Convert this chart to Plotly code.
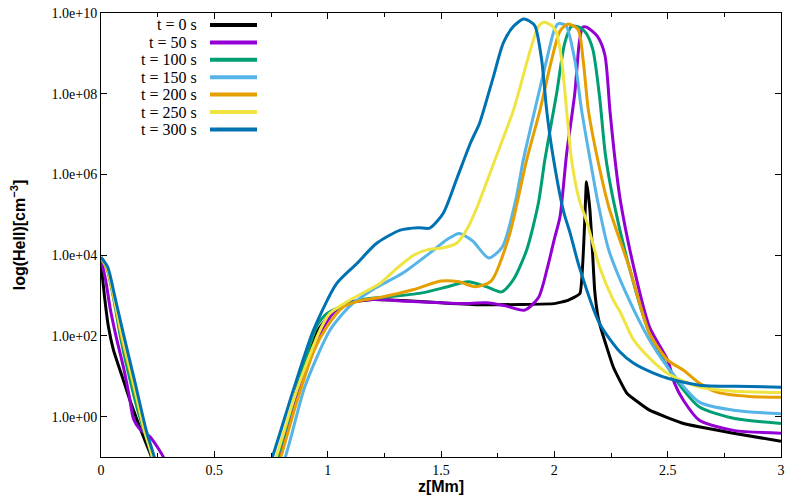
import plotly.graph_objects as go

# z [Mm] and log10 n(HeII) [cm^-3].
# None splits the two visible branches (the curves dip below 0.1 in between).
z_0 = [0, 0.015, 0.032, 0.055, 0.09, 0.128, 0.17, 0.216, 0.25, None,
       0.74, 0.785, 0.87, 0.958, 1.02, 1.1, 1.2, 1.35, 1.5, 1.67, 1.85, 2.0, 2.06,
       2.113, 2.142, 2.157, 2.168, 2.178, 2.193, 2.208, 2.26, 2.32, 2.42, 2.57, 2.79, 3.0]
logn_0 = [3.8, 3.0, 2.25, 1.65, 1.05, 0.4, -0.25, -0.9, -1.4, None,
          -1.6, -1.05, 0.8, 2.14, 2.6, 2.83, 2.9, 2.87, 2.82, 2.77, 2.78, 2.8, 2.88,
          3.05, 5.82, 5.12, 4.13, 3.13, 2.47, 2.14, 1.23, 0.58, 0.16, -0.17, -0.41, -0.61]

z_50 = [0, 0.02, 0.04, 0.07, 0.1, 0.125, 0.143, 0.17, 0.216, 0.275, 0.3, None,
        0.74, 0.785, 0.87, 0.96, 1.03, 1.1, 1.2, 1.35, 1.5, 1.6, 1.7, 1.78, 1.87, 1.93,
        1.97, 2.0, 2.025, 2.054, 2.09, 2.11, 2.125, 2.142, 2.19, 2.223, 2.245, 2.265,
        2.29, 2.35, 2.42, 2.5, 2.53, 2.57, 2.64, 2.79, 3.0]
logn_50 = [3.9, 3.4, 2.7, 1.9, 1.2, 0.5, -0.05, -0.3, -0.5, -1.0, -1.4, None,
           -1.6, -1.05, 0.6, 2.0, 2.6, 2.83, 2.9, 2.86, 2.82, 2.8, 2.82, 2.75, 2.64, 2.95,
           3.7, 4.4, 4.95, 6.5, 8.0, 9.26, 9.65, 9.65, 9.42, 8.96, 7.6, 6.5,
           5.4, 3.71, 2.22, 1.4, 0.83, 0.4, -0.09, -0.34, -0.41]

z_100 = [0, 0.03, 0.06, 0.085, 0.12, 0.16, 0.19, 0.22, 0.245, None,
         0.73, 0.775, 0.86, 0.95, 0.996, 1.057, 1.15, 1.25, 1.41, 1.53, 1.62, 1.7, 1.767,
         1.82, 1.878, 1.93, 1.958, 2.01, 2.046, 2.076, 2.11, 2.14, 2.17, 2.2, 2.225, 2.26,
         2.33, 2.42, 2.5, 2.57, 2.64, 2.79, 3.0]
logn_100 = [3.95, 3.6, 2.8, 2.0, 1.1, 0.2, -0.35, -0.9, -1.4, None,
            -1.6, -1.05, 0.6, 2.22, 2.55, 2.72, 2.9, 2.96, 3.06, 3.22, 3.34, 3.22, 3.09,
            3.4, 4.13, 5.3, 6.36, 8.0, 9.26, 9.67, 9.65, 9.5, 9.09, 7.9, 6.5, 5.37,
            3.71, 2.06, 1.23, 0.66, 0.24, -0.04, -0.17]

z_150 = [0, 0.03, 0.06, 0.095, 0.145, 0.195, 0.23, 0.25, None,
         0.76, 0.81, 0.9, 1.01, 1.1, 1.2, 1.33, 1.45, 1.53, 1.58, 1.64, 1.71, 1.77, 1.83,
         1.863, 1.914, 1.966, 2.0, 2.016, 2.05, 2.09, 2.12, 2.16, 2.19, 2.24, 2.33, 2.42,
         2.5, 2.64, 2.79, 3.0]
logn_150 = [3.95, 3.65, 2.9, 2.0, 0.8, -0.35, -1.0, -1.4, None,
            -1.6, -1.05, 0.75, 2.14, 2.75, 3.15, 3.55, 4.05, 4.4, 4.54, 4.35, 3.93, 4.2, 5.37,
            6.36, 7.6, 8.84, 9.58, 9.73, 9.7, 8.84, 7.6, 6.3, 5.37, 4.13, 2.89, 1.9,
            1.23, 0.36, 0.16, 0.07]

z_200 = [0, 0.03, 0.06, 0.09, 0.14, 0.19, 0.225, 0.245, None,
         0.75, 0.79, 0.86, 0.94, 0.996, 1.07, 1.15, 1.23, 1.38, 1.5, 1.58, 1.65, 1.72, 1.8,
         1.878, 1.937, 1.988, 2.025, 2.06, 2.105, 2.127, 2.15, 2.19, 2.24, 2.33, 2.42,
         2.5, 2.57, 2.64, 2.72, 2.86, 3.0]
logn_200 = [3.95, 3.6, 2.85, 2.0, 0.85, -0.3, -0.95, -1.4, None,
            -1.6, -1.05, 0.3, 1.64, 2.22, 2.72, 2.88, 2.95, 3.15, 3.36, 3.34, 3.22, 3.35, 4.46,
            6.36, 7.6, 8.84, 9.55, 9.73, 9.59, 8.84, 7.6, 6.4, 5.2, 3.71, 2.06,
            1.4, 1.15, 0.83, 0.6, 0.5, 0.48]

z_250 = [0, 0.03, 0.06, 0.093, 0.145, 0.19, 0.225, 0.245, None,
         0.73, 0.77, 0.86, 0.966, 1.01, 1.098, 1.23, 1.3, 1.38, 1.45, 1.5, 1.57, 1.62, 1.66,
         1.738, 1.82, 1.89, 1.93, 1.955, 1.99, 2.01, 2.032, 2.054, 2.076, 2.11, 2.142, 2.2,
         2.26, 2.29, 2.35, 2.42, 2.5, 2.64, 2.79, 3.0]
logn_250 = [3.95, 3.65, 2.9, 2.0, 0.8, -0.3, -0.95, -1.4, None,
            -1.6, -1.05, 0.6, 2.14, 2.56, 2.89, 3.3, 3.65, 4.0, 4.15, 4.17, 4.3, 4.7, 5.2,
            6.36, 7.6, 9.0, 9.67, 9.77, 9.68, 9.5, 8.84, 7.6, 6.36, 5.37, 4.85, 3.7,
            2.89, 2.6, 1.9, 1.45, 1.07, 0.73, 0.63, 0.6]

z_300 = [0, 0.03, 0.06, 0.098, 0.15, 0.2, 0.235, 0.25, None,
         0.70, 0.753, 0.848, 0.937, 1.04, 1.13, 1.215, 1.32, 1.4, 1.45, 1.51, 1.57, 1.63,
         1.67, 1.73, 1.775, 1.82, 1.863, 1.89, 1.915, 1.944, 1.966, 1.99, 2.04, 2.07, 2.11,
         2.2, 2.29, 2.35, 2.44, 2.5, 2.64, 2.8, 3.0]
logn_300 = [3.95, 3.7, 3.0, 2.07, 0.85, -0.35, -1.0, -1.4, None,
            -1.8, -1.05, 0.65, 2.14, 3.3, 3.8, 4.29, 4.62, 4.68, 4.67, 5.04, 5.9, 6.78,
            7.27, 8.4, 9.26, 9.67, 9.85, 9.8, 9.67, 8.84, 7.6, 6.6, 5.1, 4.54, 3.71,
            2.3, 1.6, 1.32, 1.07, 0.95, 0.78, 0.75, 0.73]

labels = ["t = 0 s", "t = 50 s", "t = 100 s", "t = 150 s",
          "t = 200 s", "t = 250 s", "t = 300 s"]
series = [(z_0, logn_0), (z_50, logn_50), (z_100, logn_100), (z_150, logn_150),
          (z_200, logn_200), (z_250, logn_250), (z_300, logn_300)]

# gnuplot default line colours
COLORS = ["#000000", "#9400d3", "#009e73", "#56b4e9", "#e69f00", "#f0e442", "#0072b2"]
SMOOTH = [0.35, 0.7, 0.7, 0.7, 0.7, 0.7, 0.7]

SERIF = "Liberation Serif, Times New Roman, serif"
SANS = "Liberation Sans, Arial, sans-serif"

fig = go.Figure()
for label, (z, logn), color, sm in zip(labels, series, COLORS, SMOOTH):
    n = [None if v is None else 10 ** v for v in logn]
    fig.add_trace(go.Scatter(
        x=z, y=n, mode="lines", name=label,
        line=dict(color=color, width=3, shape="spline", smoothing=sm),
        connectgaps=False,
    ))

# the page body adds an 8px offset, so margins are shifted to compensate
L, T = 93, 5
pw, ph = 680, 444
R, B = 800 - L - pw, 500 - T - ph

# gnuplot-style key: right-aligned text, line sample to its right
for i, (label, color) in enumerate(zip(labels, COLORS)):
    ypx = 12 + i * 17.4  # px below the top of the frame
    yp = 1 - ypx / ph
    fig.add_annotation(
        x=98 / pw, y=yp, xref="paper", yref="paper", text=label,
        showarrow=False, xanchor="right", yanchor="middle",
        font=dict(family=SERIF, size=16, color="black"),
    )
    fig.add_shape(
        type="line", xref="paper", yref="paper",
        x0=109 / pw, x1=156 / pw, y0=yp, y1=yp,
        line=dict(color=color, width=4),
    )

fig.update_layout(
    width=800, height=500,
    margin=dict(l=L, r=R, t=T, b=B),
    paper_bgcolor="white", plot_bgcolor="white",
    showlegend=False,
)
fig.update_xaxes(
    range=[0, 3], tickvals=[0, 0.5, 1, 1.5, 2, 2.5, 3],
    ticktext=["0", "0.5", "1", "1.5", "2", "2.5", "3"],
    automargin=False, ticklabeloverflow="allow",
    showgrid=False, zeroline=False,
    showline=True, linecolor="black", linewidth=1, mirror="ticks",
    ticks="inside", ticklen=6, tickcolor="black",
    minor=dict(dtick=0.25, ticks="inside", ticklen=4, tickcolor="black"),
    tickfont=dict(family=SERIF, size=14, color="black"),
    title=dict(text="z[Mm]", standoff=0,
               font=dict(family=SANS, size=16, color="black", weight="bold")),
)
yvals = [1e0, 1e2, 1e4, 1e6, 1e8, 1e10]
fig.update_yaxes(
    type="log", range=[-1, 10], tickvals=yvals,
    ticktext=["1.0e+00", "1.0e+02", "1.0e+04", "1.0e+06", "1.0e+08", "1.0e+10"],
    automargin=False, ticklabeloverflow="allow",
    showgrid=False, zeroline=False,
    showline=True, linecolor="black", linewidth=1, mirror="ticks",
    ticks="inside", ticklen=6, tickcolor="black",
    tickfont=dict(family=SERIF, size=14, color="black"),
    title=dict(text="log(HeII)[cm<sup>−3</sup>]", standoff=25,
               font=dict(family=SANS, size=16, color="black", weight="bold")),
)

fig.write_html("out.html")
